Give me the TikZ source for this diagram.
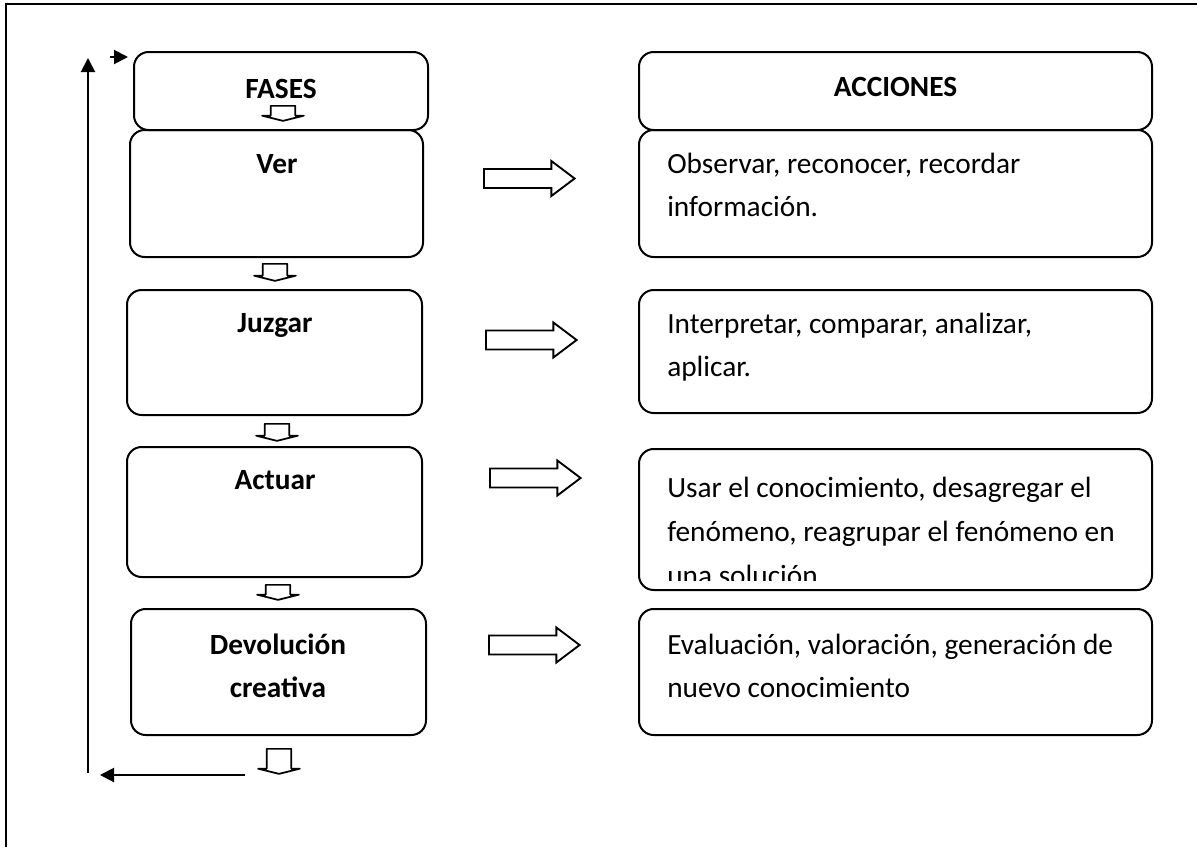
\documentclass[tikz,border=0pt]{standalone}
\usepackage{fontspec}
\setmainfont{Carlito}
\usetikzlibrary{arrows.meta,shapes.arrows}

\begin{document}
\begin{tikzpicture}[x=0.75pt,y=-0.75pt,
  caja/.style 2 args={draw,line width=1.5pt,rounded corners=11pt,inner sep=0pt,minimum width=#1*0.75pt,minimum height=#2*0.75pt},
  flechad/.style={draw,line width=1.4pt,single arrow,anchor=tail,inner xsep=0pt,inner ysep=6.4pt,minimum height=68pt,minimum width=25pt,single arrow head extend=6pt,single arrow tip angle=74},
  flechab/.style={draw,line width=1.3pt,line join=round,single arrow,shape border rotate=270,anchor=tail,inner ysep=0pt,inner xsep=8.6pt,minimum height=#1*0.75pt,minimum width=30pt,single arrow head extend=6.4pt,single arrow tip angle=152},
  lazo/.style={line width=1.5pt,-{Triangle[length=10.5pt,width=10.5pt]}},
  fase/.style={font=\fontsize{22pt}{32.25pt}\selectfont\bfseries,align=center,inner sep=0pt},
  accion/.style={font=\fontsize{22pt}{32.25pt}\selectfont,align=left,inner sep=0pt}]
\useasboundingbox (0,0) rectangle (1197,847);
\draw[line width=1.2pt] (6,847) -- (6,4) -- (1197,4);

% columna de fases
\node[caja={294}{78}] (fases) at (281,91) {};
\node[caja={293}{127}] (ver) at (276.5,193.5) {};
\node[caja={295}{125}] (juzgar) at (274.5,352.5) {};
\node[caja={295}{130}] (actuar) at (274.5,512) {};
\node[caja={295}{126}] (devol) at (278.5,672) {};

\node[fase,anchor=base] (tfases) at (281,98) {FASES};
\node[fase,anchor=base] (tver) at (277,173) {Ver};
\node[fase,anchor=base] (tjuzgar) at (275,332) {Juzgar};
\node[fase,anchor=base] (tactuar) at (275,489) {Actuar};
\node[fase,anchor=base] (tdevol) at (278,697) {Devolución\\creativa};

% flechas hacia abajo
\node[flechab=15] (b1) at (283,105) {};
\node[flechab=17] (b2) at (275,263) {};
\node[flechab=17] (b3) at (277,423) {};
\node[flechab=15] (b4) at (278,584) {};
\node[flechab=25] (b5) at (279,748) {};

% columna de acciones
\node[caja={513}{78}] (acciones) at (895.5,91) {};
\node[caja={513}{127}] (obs) at (895.5,193.5) {};
\node[caja={513}{123}] (interp) at (895.5,351.5) {};
\node[caja={513}{141}] (usar) at (895.5,519.5) {};
\node[caja={513}{126}] (eval) at (895.5,672) {};

\node[fase,anchor=base] (tacciones) at (895.5,96) {ACCIONES};
\node[accion,anchor=base west] (tobs) at (667,216) {Observar, reconocer, recordar\\información.};
\node[accion,anchor=base west] (tinterp) at (667,376) {Interpretar, comparar, analizar,\\aplicar.};
\begin{scope}
\clip (620,440) rectangle (1170,580);
\node[accion,anchor=base west,font=\fontsize{22pt}{33pt}\selectfont] (tusar) at (667,585) {Usar el conocimiento, desagregar el\\fenómeno, reagrupar el fenómeno en\\una solución};
\end{scope}
\node[accion,anchor=base west] (teval) at (667,697) {Evaluación, valoración, generación de\\nuevo conocimiento};

% flechas hacia la derecha
\node[flechad] (d1) at (483,178.5) {};
\node[flechad] (d2) at (485,340) {};
\node[flechad] (d3) at (489,478) {};
\node[flechad] (d4) at (488,645) {};

% ciclo
\coordinate (c1) at (245,775);
\coordinate (c2) at (100,775);
\coordinate (c3) at (88,773);
\coordinate (c4) at (88,58);
\coordinate (c5) at (110,57);
\coordinate (c6) at (128,57);
\draw[lazo] (c1) -- (c2);
\draw[lazo] (c3) -- (c4);
\draw[lazo] (c5) -- (c6);
\end{tikzpicture}
\end{document}
